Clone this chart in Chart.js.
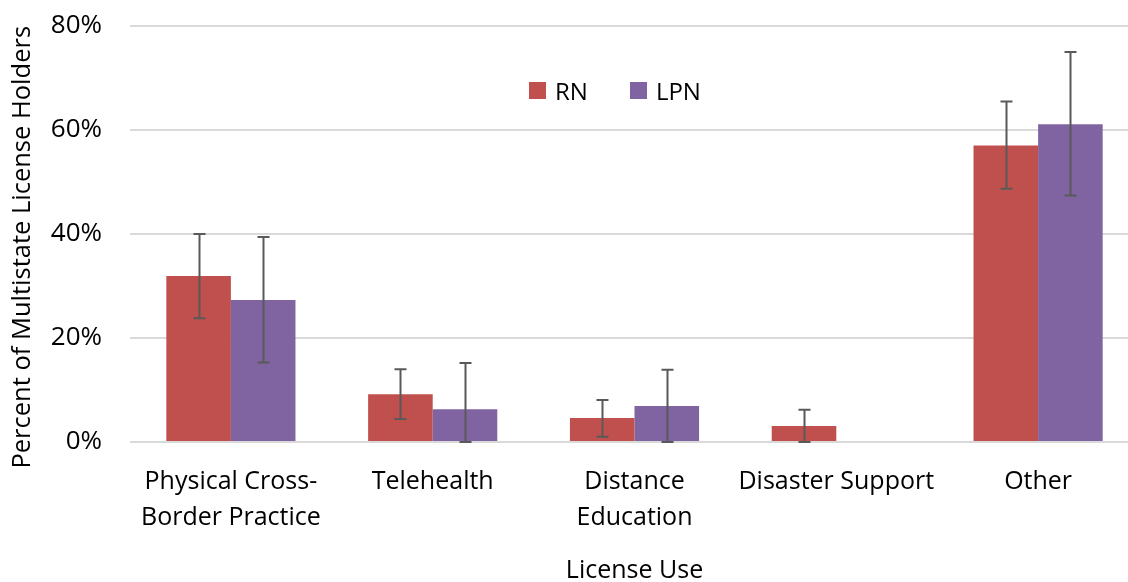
<!DOCTYPE html>
<html lang="en">
<head>
  <meta charset="UTF-8">
  <title>License Use</title>
  <script src="https://cdn.jsdelivr.net/npm/chart.js"></script>
  <style>
    html, body { margin: 0; padding: 0; background: #fff; overflow: hidden; }
    #wrap { position: relative; width: 1142px; height: 582px; }
    #legend { position: absolute; left: 529px; top: 74px; display: flex; gap: 42px;
      font-family: "Open Sans", sans-serif; font-size: 24px; color: #000; }
    #legend span.item { display: flex; align-items: center; }
    #legend span.box { display: inline-block; width: 17px; height: 17px; margin-right: 9px; }
  </style>
</head>
<body>
  <div id="wrap">
    <canvas id="chart" width="1142" height="582"></canvas>
    <div id="legend"></div>
  </div>

  <script>
    const categories = [['Physical Cross-', 'Border Practice'], 'Telehealth', ['Distance', 'Education'], 'Disaster Support', 'Other'];
    const rnValues = [31.9, 9.2, 4.6, 3.1, 57.0];
    const rnLow = [23.8, 4.4, 1.0, 0, 48.7];
    const rnHigh = [40.0, 14.0, 8.1, 6.2, 65.5];
    const lpnValues = [27.3, 6.3, 6.9, 0, 61.1];
    const lpnLow = [15.3, 0, 0, 0, 47.4];
    const lpnHigh = [39.4, 15.2, 13.9, 0, 75.0];
    const yTicks = [0, 20, 40, 60, 80];

    const font = 'Open Sans';

    // error bars drawn over the bars
    const errorBars = {
      id: 'errorBars',
      afterDatasetsDraw(chart) {
        const ctx = chart.ctx;
        const y = chart.scales.y;
        ctx.save();
        ctx.strokeStyle = '#595959';
        ctx.lineWidth = 2;
        chart.data.datasets.forEach((ds, i) => {
          const meta = chart.getDatasetMeta(i);
          meta.data.forEach((bar, j) => {
            if (ds.high[j] === ds.low[j]) return;
            const x = Math.round(bar.x) + 0.5;
            const top = y.getPixelForValue(ds.high[j]);
            const bot = y.getPixelForValue(ds.low[j]);
            ctx.beginPath();
            ctx.moveTo(x, top); ctx.lineTo(x, bot);
            ctx.moveTo(x - 6, top); ctx.lineTo(x + 6, top);
            ctx.moveTo(x - 6, bot); ctx.lineTo(x + 6, bot);
            ctx.stroke();
          });
        });
        ctx.restore();
      }
    };

    const chart = new Chart(document.getElementById('chart').getContext('2d'), {
      type: 'bar',
      data: {
        labels: categories,
        datasets: [
          { label: 'RN', data: rnValues, low: rnLow, high: rnHigh, backgroundColor: '#C0504D' },
          { label: 'LPN', data: lpnValues, low: lpnLow, high: lpnHigh, backgroundColor: '#8064A2' }
        ]
      },
      options: {
        responsive: false,
        animation: false,
        layout: { padding: { top: 0, right: 3, left: 0, bottom: 0 } },
        datasets: { bar: { categoryPercentage: 0.64, barPercentage: 1.0 } },
        plugins: { legend: { display: false }, tooltip: { enabled: false } },
        scales: {
          x: {
            grid: { display: false },
            border: { display: false },
            ticks: { color: '#000', padding: 14, maxRotation: 0, autoSkip: false,
              font: { family: font, size: 25, lineHeight: 1.44 } },
            title: { display: true, text: 'License Use', color: '#000',
              font: { family: font, size: 25 }, padding: { top: 0, bottom: -4 } },
            afterFit(scale) { scale.height = 140; }
          },
          y: {
            min: 0, max: 80,
            afterBuildTicks(scale) { scale.ticks = yTicks.map(v => ({ value: v })); },
            grid: { color: '#d9d9d9', lineWidth: 2, drawTicks: false },
            border: { display: false },
            ticks: { color: '#000', padding: 28, callback: v => v + '%',
              font: { family: font, size: 26 } },
            // trailing nbsp nudges the title a little lower, as in the original
            title: { display: true, text: 'Percent of Multistate License Holders\u00a0\u00a0\u00a0\u00a0', color: '#000',
              font: { family: font, size: 25.5 }, padding: { top: 7, bottom: 0 } },
            afterFit(scale) {
              scale.width = 130;
              scale.paddingTop = 26;
              scale.paddingBottom = 0;
            }
          }
        }
      },
      plugins: [errorBars]
    });

    // legend built from the datasets
    const legend = document.getElementById('legend');
    chart.data.datasets.forEach(ds => {
      const item = document.createElement('span');
      item.className = 'item';
      item.innerHTML = `<span class="box" style="background:${ds.backgroundColor}"></span>${ds.label}`;
      legend.appendChild(item);
    });
  </script>
</body>
</html>
